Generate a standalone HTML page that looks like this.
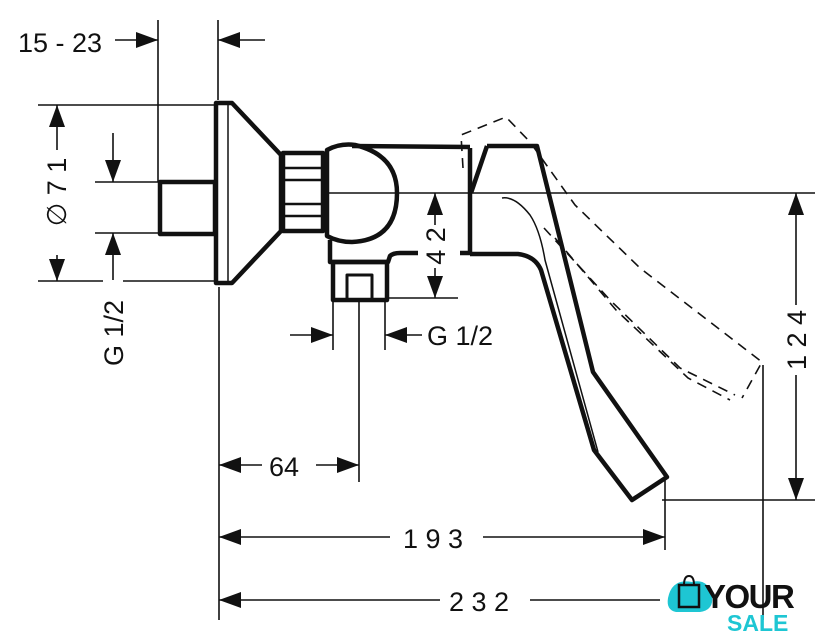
<!DOCTYPE html>
<html><head><meta charset="utf-8"><style>
html,body{margin:0;padding:0;background:#fff;}
svg{display:block;}
text{font-family:"Liberation Sans",sans-serif;fill:#111;}
</style></head><body>
<svg width="837" height="640" viewBox="0 0 837 640" xmlns="http://www.w3.org/2000/svg">
<defs>
<marker id="a" viewBox="0 0 22 16" refX="22" refY="8" markerWidth="22" markerHeight="16" markerUnits="userSpaceOnUse" orient="auto-start-reverse"><path d="M0,0 L22,8 L0,16 Z" fill="#111"/></marker>
</defs>
<g stroke="#111" stroke-width="1.6" fill="none">
<line x1="158" y1="20" x2="158" y2="182"/>
<line x1="218" y1="20" x2="218" y2="100"/>
<line x1="219" y1="287" x2="219" y2="620"/>
<line x1="38" y1="105" x2="214" y2="105"/>
<line x1="38" y1="281" x2="103" y2="281"/>
<line x1="123" y1="281" x2="214" y2="281"/>
<line x1="95" y1="182" x2="160" y2="182"/>
<line x1="95" y1="233" x2="160" y2="233"/>
<line x1="328" y1="193" x2="815" y2="193"/>
<line x1="385" y1="298" x2="458" y2="298"/>
<line x1="333" y1="300" x2="333" y2="350"/>
<line x1="385" y1="300" x2="385" y2="350"/>
<line x1="359" y1="300" x2="359" y2="482"/>
<line x1="665" y1="480" x2="665" y2="550"/>
<line x1="763" y1="365" x2="763" y2="620"/>
<line x1="662" y1="500" x2="815" y2="500"/>
<line x1="115" y1="40" x2="158" y2="40" marker-end="url(#a)"/>
<line x1="265" y1="40" x2="218" y2="40" marker-end="url(#a)"/>
<line x1="57" y1="150" x2="57" y2="105" marker-end="url(#a)"/>
<line x1="57" y1="255" x2="57" y2="281" marker-end="url(#a)"/>
<line x1="113" y1="133" x2="113" y2="182" marker-end="url(#a)"/>
<line x1="113" y1="280" x2="113" y2="233" marker-end="url(#a)"/>
<line x1="435" y1="225" x2="435" y2="193" marker-end="url(#a)"/>
<line x1="435" y1="268" x2="435" y2="298" marker-end="url(#a)"/>
<line x1="290" y1="335" x2="333" y2="335" marker-end="url(#a)"/>
<line x1="422" y1="335" x2="385" y2="335" marker-end="url(#a)"/>
<line x1="262" y1="465" x2="219" y2="465" marker-end="url(#a)"/>
<line x1="316" y1="465" x2="359" y2="465" marker-end="url(#a)"/>
<line x1="390" y1="537" x2="219" y2="537" marker-end="url(#a)"/>
<line x1="483" y1="537" x2="665" y2="537" marker-end="url(#a)"/>
<line x1="440" y1="600" x2="219" y2="600" marker-end="url(#a)"/>
<line x1="530" y1="600" x2="660" y2="600"/>
<line x1="796" y1="305" x2="796" y2="193" marker-end="url(#a)"/>
<line x1="796" y1="375" x2="796" y2="500" marker-end="url(#a)"/>
</g>
<g stroke="#111" stroke-width="4.5" fill="none" stroke-linejoin="round">
<path d="M216,103 L232,103 L281,155 L281,231 L232,283 L216,283 Z"/>
<line x1="228" y1="105" x2="228" y2="281" stroke-width="1.5"/>
<rect x="160" y="182" width="55" height="52"/>
<rect x="283" y="153" width="40" height="78"/>
<g stroke-width="2.5"><line x1="285" y1="168" x2="321" y2="168"/><line x1="285" y1="180" x2="321" y2="180"/><line x1="285" y1="204" x2="321" y2="204"/><line x1="285" y1="216" x2="321" y2="216"/></g>
<path d="M327,150 Q340,143 355,145 Q397,155 397,193 Q397,240 352,242 Q338,242 327,236 Z"/>
<path d="M352,146 L470,147"/>
<path d="M330,240 L330,262 L388,262 L390,256 Q393,253 400,253 L418,253"/>
<path d="M460,253 L470,253 L470,148"/>
<rect x="333" y="262" width="54" height="38"/>
<rect x="347" y="275" width="25" height="25" stroke-width="3"/>
<path d="M487,146 L537,146 L593,372 L667,477 L632,500 L594,450 L541,270 Q535,256 518,254 L470,254"/>
<path d="M487,146 L471,193"/>
<path d="M502,198 Q515,196 530,215 Q540,230 545,260 L598,452" stroke-width="1.5"/>
</g>
<g stroke="#111" stroke-width="1.6" fill="none" stroke-dasharray="10,7">
<path d="M463,168 L461,135 L506,117 L530,142 L575,205 L640,268 L762,362 L742,398"/>
<path d="M544,228 L610,300 L680,368 L735,395"/>
<path d="M555,238 L616,310 L688,378 L730,400"/>
</g>
<text x="18" y="52" font-size="27">15 - 23</text>
<text transform="translate(66,192) rotate(-90)" font-size="27" text-anchor="middle">∅  7 1</text>
<text transform="translate(123,333) rotate(-90)" font-size="27" text-anchor="middle">G 1/2</text>
<text transform="translate(445,246) rotate(-90)" font-size="27" text-anchor="middle">4 2</text>
<text x="427" y="345" font-size="27">G 1/2</text>
<text x="269" y="476" font-size="27">64</text>
<text x="403" y="548" font-size="27">1 9 3</text>
<text x="449" y="611" font-size="27">2 3 2</text>
<text transform="translate(806,340) rotate(-90)" font-size="27" text-anchor="middle">1 2 4</text>
<path d="M668,598 Q672,578 692,582 Q708,578 712,596 Q714,610 700,612 L676,612 Q666,610 668,598 Z" fill="#1ec6d3"/>
<rect x="679" y="585" width="20" height="22" fill="none" stroke="#111" stroke-width="2.5"/>
<path d="M684,585 Q684,576 689,576 Q694,576 694,585" fill="none" stroke="#111" stroke-width="2"/>
<text x="704" y="608" font-size="33" font-weight="bold" letter-spacing="-1.5" style="fill:#111">YOUR</text>
<text x="727" y="631" font-size="23" font-weight="bold" style="fill:#1ec6d3">SALE</text>
</svg>
</body></html>
